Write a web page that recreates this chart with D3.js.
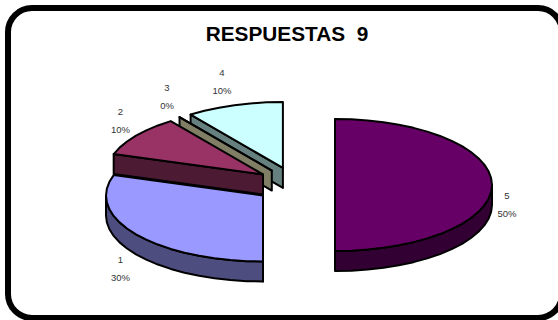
<!DOCTYPE html>
<html><head><meta charset="utf-8">
<style>html,body{margin:0;padding:0;background:#fff}svg{display:block}</style>
<script src="https://cdn.jsdelivr.net/npm/d3@7"></script></head>
<body><svg id="c" width="558" height="320"></svg>
<script>
const titleText = "RESPUESTAS 9";
const categories = ["1","2","3","4","5"];
const values = [30,10,0,10,50];
const topColors = ["#9999ff","#993366","#ffffcc","#ccffff","#660066"];
const sideColors = ["#4d4d80","#4d1a33","#807f66","#668080","#330033"];
const pctLabels = ["30%","10%","0%","10%","50%"];
const labelPos = [[120.5,260],[120.5,112],[167,88],[222,73],[507,196]];

const W=558,H=320, cx=295.2, cy=185, rx=157, ry=66, depth=20, ex=39.8, ey=17.9, lw=2;
const svg=d3.select("#c");
svg.append("rect").attr("x",8).attr("y",8).attr("width",W-4).attr("height",H-10).attr("rx",24).attr("ry",24)
  .attr("fill","#fff").attr("stroke","#000").attr("stroke-width",6);
svg.append("text").attr("x",287).attr("y",41).attr("text-anchor","middle")
  .attr("font-family","Liberation Sans").attr("font-weight","bold").attr("font-size",20.8).style("white-space","pre").text(titleText.replace(" ","  "));

const pie=d3.pie().sort(null).value(d=>d).startAngle(Math.PI).endAngle(3*Math.PI);
const arcs=pie(values);
const line=d3.line();
const drawOrder=[3,2,1,0,4];
const pt=(c,a,dy=0)=>[c[0]+rx*Math.sin(a), c[1]-ry*Math.cos(a)+dy];
function samples(a0,a1){const n=Math.max(1,Math.round(Math.abs(a1-a0)/(Math.PI/30)));return d3.range(n+1).map(i=>a0+(a1-a0)*i/n);}
drawOrder.forEach(i=>{
  const d=arcs[i], mid=(d.startAngle+d.endAngle)/2;
  const c=[cx+ex*Math.sin(mid), cy-ey*Math.cos(mid)];
  const g=svg.append("g").attr("stroke","#000").attr("stroke-width",lw).attr("stroke-linejoin","round");
  const poly=(p,f)=>g.append("path").attr("d",line(p)+"Z").attr("fill",f);
  const s=pt(c,d.startAngle);
  poly([c,s,[s[0],s[1]+depth],[c[0],c[1]+depth]],sideColors[i]);
  const lo=Math.max(d.startAngle, d.startAngle>=2*Math.PI?2.5*Math.PI:Math.PI), hi=Math.min(d.endAngle, d.startAngle>=2*Math.PI?3*Math.PI:1.5*Math.PI);
  if(hi>lo){
    const a=samples(lo,hi);
    poly([...a.map(t=>pt(c,t)),...a.slice().reverse().map(t=>pt(c,t,depth))],sideColors[i]);
  }
  poly([c,...samples(d.startAngle,d.endAngle).map(t=>pt(c,t))],topColors[i]);
});
categories.forEach((k,i)=>{
  const t=svg.append("g").attr("font-family","Liberation Sans").attr("font-size",9.5).attr("fill","#333").attr("text-anchor","middle");
  t.append("text").attr("x",labelPos[i][0]).attr("y",labelPos[i][1]+3).text(k);
  t.append("text").attr("x",labelPos[i][0]).attr("y",labelPos[i][1]+21).text(pctLabels[i]);
});
</script></body></html>
